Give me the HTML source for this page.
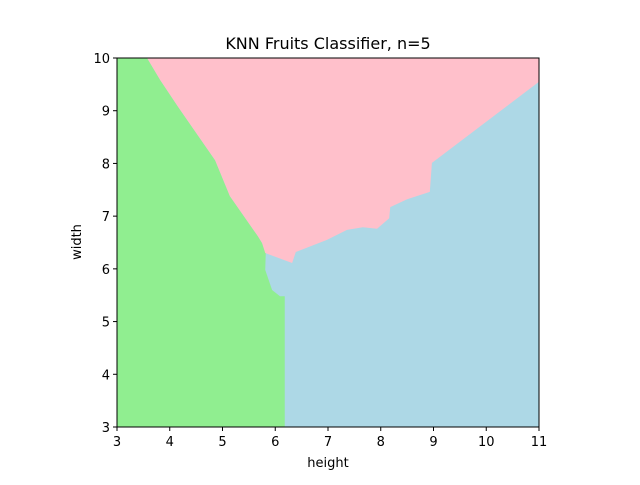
<!DOCTYPE html>
<html><head><meta charset="utf-8"><style>body{margin:0;background:#fff}svg{font-family:"DejaVu Sans","Liberation Sans",sans-serif}</style></head>
<body>
<svg id="c" width="640" height="480"></svg>
<script>
const xTicks=[3,4,5,6,7,8,9,10,11];
const yTicks=[3,4,5,6,7,8,9,10];
const greenBoundary=[[3,10],[3.57,10],[3.82,9.58],[4.16,9.07],[4.86,8.06],[5.14,7.38],[5.67,6.62],[5.75,6.49],[5.82,6.30],[5.81,5.98],[5.94,5.60],[6.09,5.48],[6.18,5.48],[6.18,3],[3,3]];
const pinkBoundary=[[3.57,10],[3.82,9.58],[4.16,9.07],[4.86,8.06],[5.14,7.38],[5.67,6.62],[5.75,6.49],[5.81,6.30],[6.32,6.11],[6.39,6.32],[6.98,6.55],[7.36,6.74],[7.66,6.79],[7.93,6.76],[8.16,6.96],[8.18,7.17],[8.50,7.32],[8.93,7.46],[8.97,8.01],[9.09,8.10],[11,9.55],[11,10]];
const X0=117,X1=539,Y0=427,Y1=58;
const sx=v=>X0+(v-3)/8*(X1-X0), sy=v=>Y0-(v-3)/7*(Y0-Y1);
const svg=document.getElementById('c');const NS='http://www.w3.org/2000/svg';
function mk(t,a,p){const e=document.createElementNS(NS,t);for(const k in a)e.setAttribute(k,a[k]);(p||svg).appendChild(e);return e;}
let bg=mk('rect',{x:X0,y:Y1,width:X1-X0,height:Y0-Y1,fill:'#add8e6'});


let g=mk('polygon',{points:greenBoundary.map(p=>sx(p[0])+','+sy(p[1])).join(' '),fill:'#90ee90'});


let pk=mk('polygon',{points:pinkBoundary.map(p=>sx(p[0])+','+sy(p[1])).join(' '),fill:'#ffc0cb'});


let fr=mk('rect',{x:X0,y:Y1,width:X1-X0,height:Y0-Y1,fill:'none',stroke:'#000','stroke-width':1});


xTicks.forEach(v=>{const x=sx(v);mk('line',{x1:x,x2:x,y1:Y0,y2:Y0+4,stroke:'#000'});
 const t=mk('text',{x:x,y:Y0+19,'font-size':13,'text-anchor':'middle'});t.textContent=v;
 
 });
yTicks.forEach(v=>{const y=sy(v);mk('line',{x1:X0-4,x2:X0,y1:y,y2:y,stroke:'#000'});
 const t=mk('text',{x:X0-7,y:y+5,'font-size':13,'text-anchor':'end'});t.textContent=v;
 
 });
let tt=mk('text',{x:328,y:49,'font-size':16,'text-anchor':'middle'});tt.textContent='KNN Fruits Classifier, n=5';


let xl=mk('text',{x:328,y:467,'font-size':13,'text-anchor':'middle'});xl.textContent='height';


let yl=mk('text',{x:0,y:0,'font-size':13,'text-anchor':'middle',transform:'translate(81,242) rotate(-90)'});yl.textContent='width';


</script>
</body></html>
